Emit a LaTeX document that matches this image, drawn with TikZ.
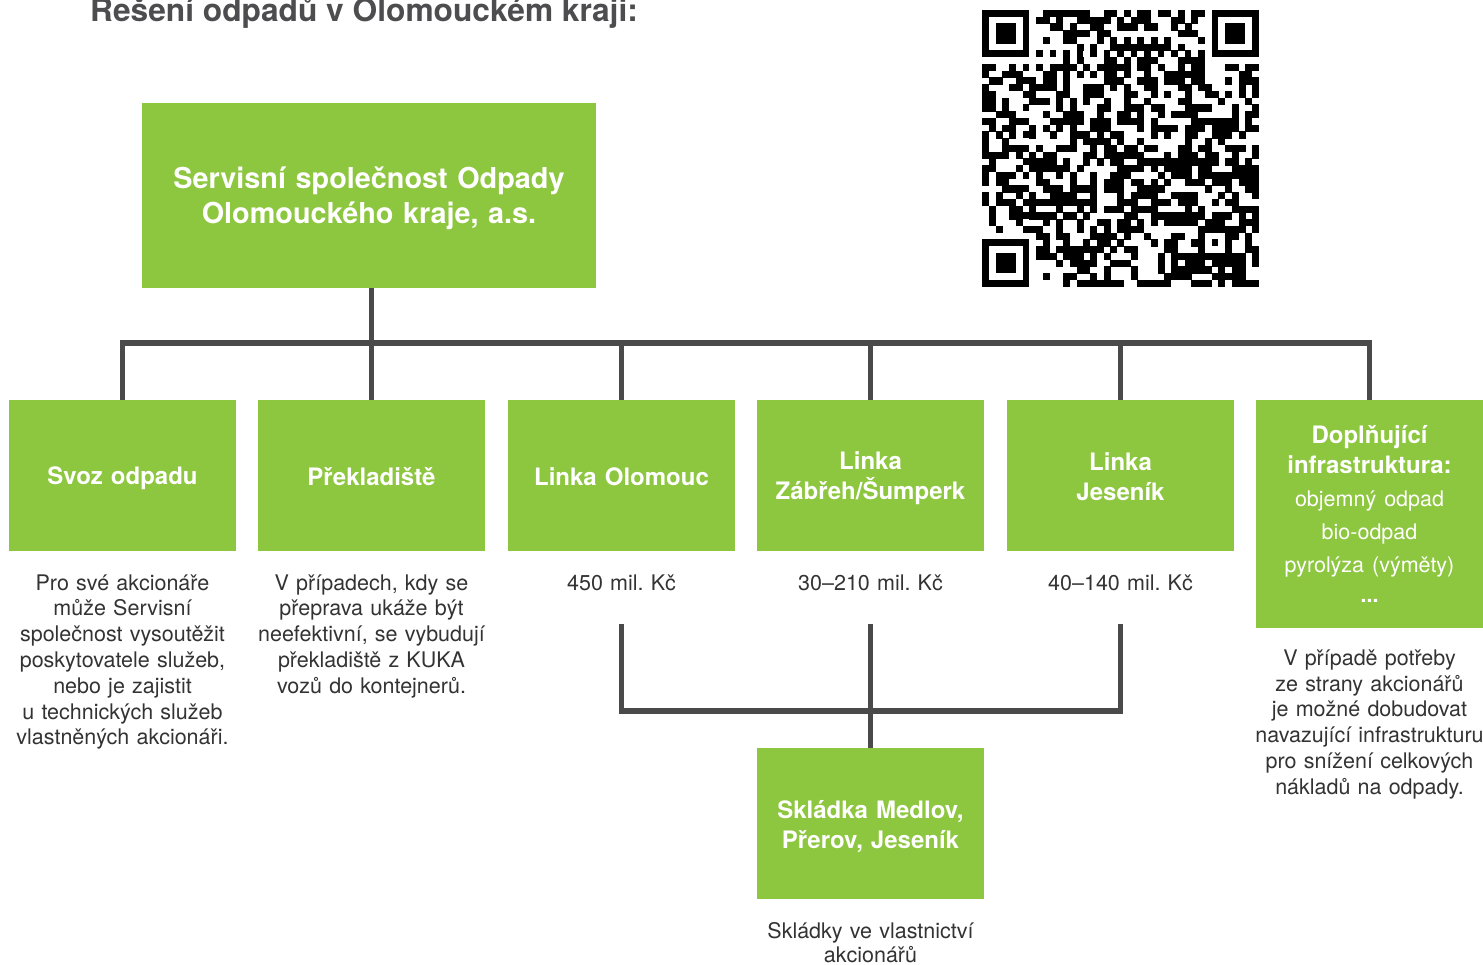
\documentclass[tikz,border=0pt]{standalone}
\usepackage{fontspec}
\setmainfont{TeX Gyre Heros}
\usetikzlibrary{positioning}
\definecolor{odpgreen}{HTML}{8DC63F}
\definecolor{odpline}{HTML}{4A4A4A}
\definecolor{odptext}{HTML}{333333}
\definecolor{odptitle}{HTML}{4D4D4F}
\newcommand\boxstrut{\rule[-3.5pt]{0pt}{27pt}}
\newcommand\rootstrut{\rule[-4pt]{0pt}{32pt}}
\tikzset{
  greenbox/.style={fill=odpgreen, text=white, inner sep=0pt, minimum width=227pt, minimum height=151pt,
    text width=227pt, align=center, font=\bfseries\fontsize{24}{30}\selectfont},
  strutted/.style={execute at begin node=\boxstrut, execute at end node=\boxstrut},
  note/.style={text=odptext, inner sep=0pt, text width=250pt, align=center,
    font=\fontsize{21.5}{25.8}\selectfont, below=23pt of #1},
  link/.style={draw=odpline, line width=5.5pt},
  qrmod/.style={fill=black}
}
\begin{document}
\frenchspacing
\begin{tikzpicture}[x=1pt,y=-1pt]
\useasboundingbox (0,0) rectangle (1483,965);

% title
\node[anchor=base west, inner sep=0pt, text=odptitle, font=\bfseries\fontsize{31.7}{36}\selectfont] (title) at (90,22) {Řešení odpadů v Olomouckém kraji:};

% qr code
\pgfmathsetseed{1234}
\foreach \i in {0,...,40}{
  \foreach \j in {0,...,40}{
    \pgfmathtruncatemacro\qrbit{((\i<8 && \j<8) || (\i>32 && \j<8) || (\i<8 && \j>32) || (\i>31 && \i<37 && \j>31 && \j<37) || \i==6 || \j==6) ? 0 : (rnd<0.52)}
    \ifnum\qrbit=1 \fill[qrmod] (982+\i*6.75,10+\j*6.75) rectangle ++(7.15,7.15);\fi
  }
}
\foreach \k in {8,10,...,32}{
  \fill[qrmod] (982+6*6.75,10+\k*6.75) rectangle ++(6.95,6.95);
  \fill[qrmod] (982+\k*6.75,10+6*6.75) rectangle ++(6.95,6.95);
}
\foreach \fx/\fy in {0/0,34/0,0/34}{
  \fill[qrmod] (982+\fx*6.75,10+\fy*6.75) rectangle ++(47.25,47.25);
  \fill[white] (982+\fx*6.75+6.75,10+\fy*6.75+6.75) rectangle ++(33.75,33.75);
  \fill[qrmod] (982+\fx*6.75+13.5,10+\fy*6.75+13.5) rectangle ++(20.25,20.25);
}
\fill[qrmod] (982+32*6.75,10+32*6.75) rectangle ++(33.75,33.75);
\fill[white] (982+33*6.75,10+33*6.75) rectangle ++(20.25,20.25);
\fill[qrmod] (982+34*6.75,10+34*6.75) rectangle ++(6.75,6.75);

% boxes
\node[greenbox, minimum width=454pt, minimum height=185pt, text width=454pt,
  font=\bfseries\fontsize{28.8}{35}\selectfont, execute at begin node=\rootstrut, execute at end node=\rootstrut]
  (root) at (369,195.5) {Servisní společnost Odpady\\Olomouckého kraje, a.s.};
\node[greenbox, strutted] (svoz) at (122.5,475.5) {Svoz odpadu};
\node[greenbox, strutted] (preklad) at (371.5,475.5) {Překladiště};
\node[greenbox, strutted] (olomouc) at (621.5,475.5) {Linka Olomouc};
\node[greenbox, strutted] (zabreh) at (870.5,475.5) {Linka\\Zábřeh/Šumperk};
\node[greenbox, strutted] (jesenik) at (1120.5,475.5) {Linka\\Jeseník};
\node[greenbox, anchor=north, minimum height=228pt] (doplnujici) at (1369.5,400) {Doplňující\\infrastruktura:\\\mdseries\fontsize{21.5}{33}\selectfont objemný odpad\\bio-odpad\\pyrolýza (výměty)\\\bfseries ...};
\node[greenbox, strutted] (skladka) at (870.5,823.5) {Skládka Medlov,\\Přerov, Jeseník};

% notes
\node[note=svoz] (svozNote) {Pro své akcionáře\\může Servisní\\společnost vysoutěžit\\poskytovatele služeb,\\nebo je zajistit\\u technických služeb\\vlastněných akcionáři.};
\node[note=preklad] (prekladNote) {V případech, kdy se\\přeprava ukáže být\\neefektivní, se vybudují\\překladiště z KUKA\\vozů do kontejnerů.};
\node[note=olomouc] (olomoucNote) {450 mil. Kč};
\node[note=zabreh] (zabrehNote) {30–210 mil. Kč};
\node[note=jesenik] (jesenikNote) {40–140 mil. Kč};
\node[note=doplnujici, below=21pt of doplnujici] (doplnujiciNote) {V případě potřeby\\ze strany akcionářů\\je možné dobudovat\\navazující infrastrukturu\\pro snížení celkových\\nákladů na odpady.};
\node[note=skladka, below=23pt of skladka, font=\fontsize{21.5}{24}\selectfont] (skladkaNote) {Skládky ve vlastnictví\\akcionářů};

% connectors
\coordinate (fork) at ([yshift=57pt]svoz.north);
\draw[link] (svoz.north) |- (fork -| doplnujici.north) -- (doplnujici.north);
\foreach \n in {preklad,olomouc,zabreh,jesenik}
  \draw[link] (\n.north) -- (\n.north |- fork);
\draw[link] (preklad.north |- root.south) -- (preklad.north |- fork);

\coordinate (olo) at ([yshift=-73pt]olomouc.south);
\coordinate (zab) at ([yshift=-73pt]zabreh.south);
\coordinate (jes) at ([yshift=-73pt]jesenik.south);
\coordinate (join) at ([yshift=-160pt]zabreh.south);
\draw[link] (olo) |- (join) -| (jes);
\draw[link] (zab) -- (skladka.north);
\end{tikzpicture}
\end{document}
